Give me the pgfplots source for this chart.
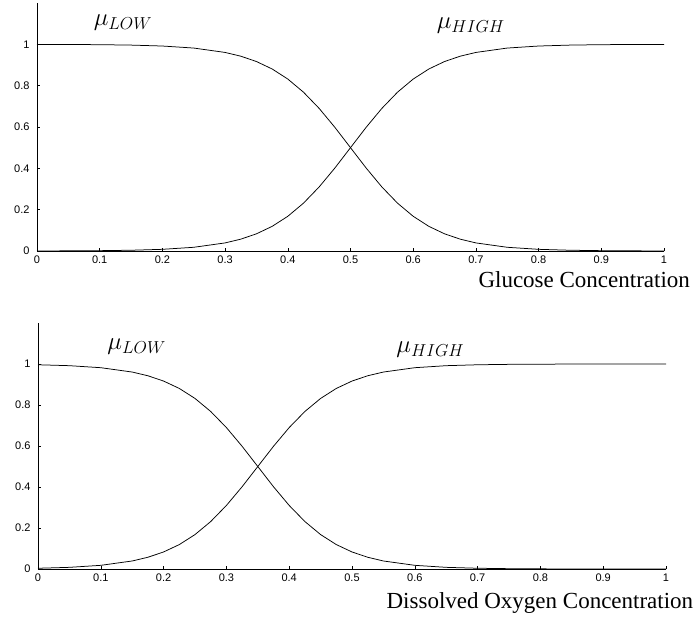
\documentclass[border=0pt]{standalone}
\usepackage{fontspec}
\setmainfont{Liberation Serif}
\setsansfont{Liberation Sans}
\usepackage{pgfplots}
\pgfplotsset{compat=1.18}
\usepackage{pgfplotstable}

\pgfplotstableread{
x low high
0.000 0.99966 0.00034
0.050 0.99925 0.00075
0.100 0.99834 0.00166
0.150 0.99631 0.00369
0.200 0.99184 0.00816
0.250 0.98201 0.01799
0.300 0.96083 0.03917
0.325 0.94267 0.05733
0.350 0.91683 0.08317
0.375 0.88080 0.11920
0.400 0.83202 0.16798
0.425 0.76852 0.23148
0.450 0.68997 0.31003
0.475 0.59869 0.40131
0.500 0.50000 0.50000
0.525 0.40131 0.59869
0.550 0.31003 0.68997
0.575 0.23148 0.76852
0.600 0.16798 0.83202
0.625 0.11920 0.88080
0.650 0.08317 0.91683
0.675 0.05733 0.94267
0.700 0.03917 0.96083
0.750 0.01799 0.98201
0.800 0.00816 0.99184
0.850 0.00369 0.99631
0.900 0.00166 0.99834
0.950 0.00075 0.99925
1.000 0.00034 0.99966
}\glucose

\pgfplotstableread{
x low high
0.000 0.99631 0.00369
0.050 0.99184 0.00816
0.100 0.98201 0.01799
0.150 0.96083 0.03917
0.175 0.94267 0.05733
0.200 0.91683 0.08317
0.225 0.88080 0.11920
0.250 0.83202 0.16798
0.275 0.76852 0.23148
0.300 0.68997 0.31003
0.325 0.59869 0.40131
0.350 0.50000 0.50000
0.375 0.40131 0.59869
0.400 0.31003 0.68997
0.425 0.23148 0.76852
0.450 0.16798 0.83202
0.475 0.11920 0.88080
0.500 0.08317 0.91683
0.525 0.05733 0.94267
0.550 0.03917 0.96083
0.600 0.01799 0.98201
0.650 0.00816 0.99184
0.700 0.00369 0.99631
0.750 0.00166 0.99834
0.800 0.00075 0.99925
0.850 0.00034 0.99966
0.900 0.00015 0.99985
1.000 0.00003 0.99997
}\oxygen

\pgfplotsset{
  mf/.style={
    scale only axis,
    xmin=0, xmax=1, ymin=0, ymax=1.2,
    axis x line*=bottom, axis y line*=left,
    axis line style={line width=0.7pt},
    xtick={0,0.1,0.2,0.3,0.4,0.5,0.6,0.7,0.8,0.9,1},
    ytick={0,0.2,0.4,0.6,0.8,1},
    tick align=inside,
    major tick length=3pt,
    tick style={line width=0.6pt, black},
    /pgf/number format/assume math mode=true,
    tick label style={font=\sffamily\fontsize{11}{11}\selectfont},
    xticklabel style={yshift=-1pt},
    yticklabel style={xshift=-4pt},
    clip=false,
    cycle list={{black, line width=0.75pt, no marks}},
  }
}

\begin{document}
\begin{tikzpicture}
\useasboundingbox (0,0) rectangle (698pt,-619pt);

\begin{axis}[mf,
  at={(37pt,-251pt)}, anchor=south west,
  width=627pt, height=248pt]
  \addplot[black, line width=0.75pt, no marks] table[x=x,y=low] {\glucose};
  \addplot[black, line width=0.75pt, no marks] table[x=x,y=high] {\glucose};
  \node[anchor=west, font=\fontsize{25}{25}\selectfont] at (axis cs:0.085,1.105) {$\mu_{LOW}$};
  \node[anchor=west, font=\fontsize{25}{25}\selectfont] at (axis cs:0.632,1.09) {$\mu_{HIGH}$};
  \node[anchor=east, font=\fontsize{23}{23}\selectfont] at (axis description cs:1.047,-0.117) {Glucose Concentration};
\end{axis}

\begin{axis}[mf,
  at={(38pt,-569pt)}, anchor=south west,
  width=628pt, height=246pt]
  \addplot[black, line width=0.75pt, no marks] table[x=x,y=low] {\oxygen};
  \addplot[black, line width=0.75pt, no marks] table[x=x,y=high] {\oxygen};
  \node[anchor=west, font=\fontsize{25}{25}\selectfont] at (axis cs:0.105,1.083) {$\mu_{LOW}$};
  \node[anchor=west, font=\fontsize{25}{25}\selectfont] at (axis cs:0.565,1.07) {$\mu_{HIGH}$};
  \node[anchor=east, font=\fontsize{23}{23}\selectfont] at (axis description cs:1.049,-0.138) {Dissolved Oxygen Concentration};
\end{axis}
\end{tikzpicture}
\end{document}
